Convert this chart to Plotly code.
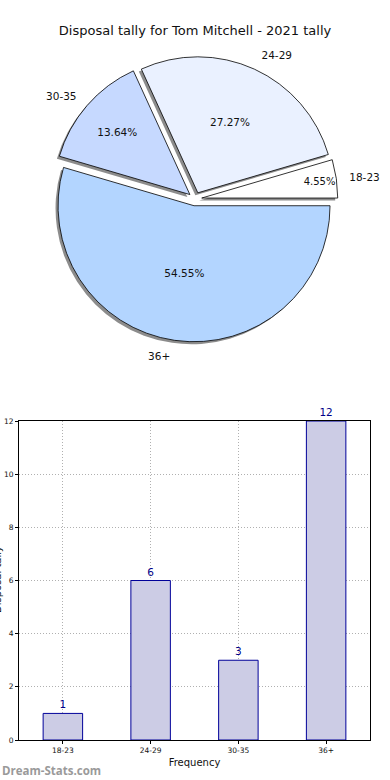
import plotly.graph_objects as go

# ---- data ----
age_groups = ["18-23", "24-29", "30-35", "36+"]
tally = [1, 6, 3, 12]
slice_colors = ["#ffffff", "#eaf1ff", "#c6d9ff", "#b3d5ff"]
y_ticks = [0, 2, 4, 6, 8, 10, 12]
title_text = "Disposal tally for Tom Mitchell - 2021 tally"
x_title = "Frequency"
y_title = "Disposal tally"
watermark = "Dream-Stats.com"

W, H = 390, 780
pulls = [0.05, 0.05, 0.05, 0.05]
# first slice starts at 3 o'clock and runs counterclockwise
start_rotation = 90 - 360 * tally[0] / sum(tally)

def px_x(v):
    return v / W

def px_y(v):
    return 1 - v / H

# pie geometry (pixels)
cx, cy, rad = 195, 199, 136
half = rad * 1.05
pie_dom = dict(x=[px_x(cx - half), px_x(cx + half)], y=[px_y(cy + half), px_y(cy - half)])
sh = 2.5
shadow_dom = dict(x=[px_x(cx - half - sh), px_x(cx + half - sh)], y=[px_y(cy + half + sh), px_y(cy - half + sh)])
lhalf = half * 1.07
label_dom = dict(x=[px_x(cx - lhalf), px_x(cx + lhalf)], y=[px_y(cy + lhalf), px_y(cy - lhalf)])

fig = go.Figure()

common = dict(labels=age_groups, values=tally, sort=False, direction="counterclockwise",
              rotation=start_rotation, pull=pulls, hoverinfo="skip", showlegend=False)

# shadow
fig.add_trace(go.Pie(**common, domain=shadow_dom, textinfo="none",
                     marker=dict(colors=["rgba(0,0,0,0.45)"] * 4, line=dict(width=0))))
# main pie with percentages
fig.add_trace(go.Pie(**common, domain=pie_dom, textinfo="percent",
                     texttemplate="%{percent:.2%}", textposition="inside",
                     insidetextorientation="horizontal",
                     textfont=dict(family="DejaVu Sans", size=10.5, color="#111111"),
                     marker=dict(colors=slice_colors, line=dict(color="#000000", width=0.8))))
# outside category labels
fig.add_trace(go.Pie(**common, domain=label_dom, textinfo="label", textposition="outside",
                     outsidetextfont=dict(family="DejaVu Sans", size=10.5, color="#111111"),
                     marker=dict(colors=["rgba(0,0,0,0)"] * 4, line=dict(width=0))))

# bar chart
fig.add_trace(go.Bar(x=age_groups, y=tally, width=0.45, text=[str(v) for v in tally],
                     textposition="outside", cliponaxis=False,
                     textfont=dict(family="DejaVu Sans", size=10.5, color="#000088"),
                     marker=dict(color="#ccccE5", line=dict(color="#000099", width=1)),
                     xaxis="x", yaxis="y", showlegend=False, hoverinfo="skip"))

grid_style = dict(showgrid=True, gridcolor="#b0b0b0", griddash="1px,2px", gridwidth=1)

fig.update_layout(
    width=W, height=H, autosize=False, showlegend=False,
    margin=dict(l=0, r=0, t=0, b=0, pad=0, autoexpand=False),
    paper_bgcolor="white", plot_bgcolor="white",
    title=dict(text=title_text, xref="paper", x=0.5, xanchor="center", yref="paper", y=px_y(30),
               yanchor="middle", automargin=False,
               font=dict(family="DejaVu Sans", size=13, color="#111111")),
    xaxis=dict(domain=[px_x(19), px_x(370)], range=[-0.5, 3.5], type="category",
               automargin=False,
               showline=True, linecolor="black", linewidth=1, mirror=True, **grid_style,
               ticks="outside", ticklen=3, tickcolor="black",
               tickfont=dict(family="DejaVu Sans", size=7.5, color="#111111"),
               title=dict(text=x_title, standoff=4, font=dict(family="DejaVu Sans", size=10, color="#111111"))),
    yaxis=dict(domain=[px_y(740), px_y(421)], range=[0, 12], tickvals=y_ticks,
               automargin=False,
               showline=True, linecolor="black", linewidth=1, mirror=True, **grid_style,
               zeroline=False,
               ticks="outside", ticklen=3, tickcolor="black",
               tickfont=dict(family="DejaVu Sans", size=7.5, color="#111111")),
    annotations=[
        dict(text=y_title, xref="paper", yref="paper", x=px_x(-3), y=px_y(580),
             xanchor="center", yanchor="middle", textangle=-90, showarrow=False,
             font=dict(family="DejaVu Sans", size=10, color="#111111")),
        dict(text="<b>" + watermark + "</b>", xref="paper", yref="paper", x=0, y=px_y(770),
             xanchor="left", yanchor="middle", showarrow=False,
             font=dict(family="Open Sans", size=11.5, color="#9a9a9a")),
    ],
)

post = (
    "document.documentElement.style.margin='0';"
    "document.documentElement.style.overflow='hidden';"
    "document.body.style.margin='0';document.body.style.overflow='hidden';"
)

fig.write_html("out.html",
               config={"displayModeBar": False, "responsive": False},
               default_width="390px", default_height="780px",
               post_script=post)
